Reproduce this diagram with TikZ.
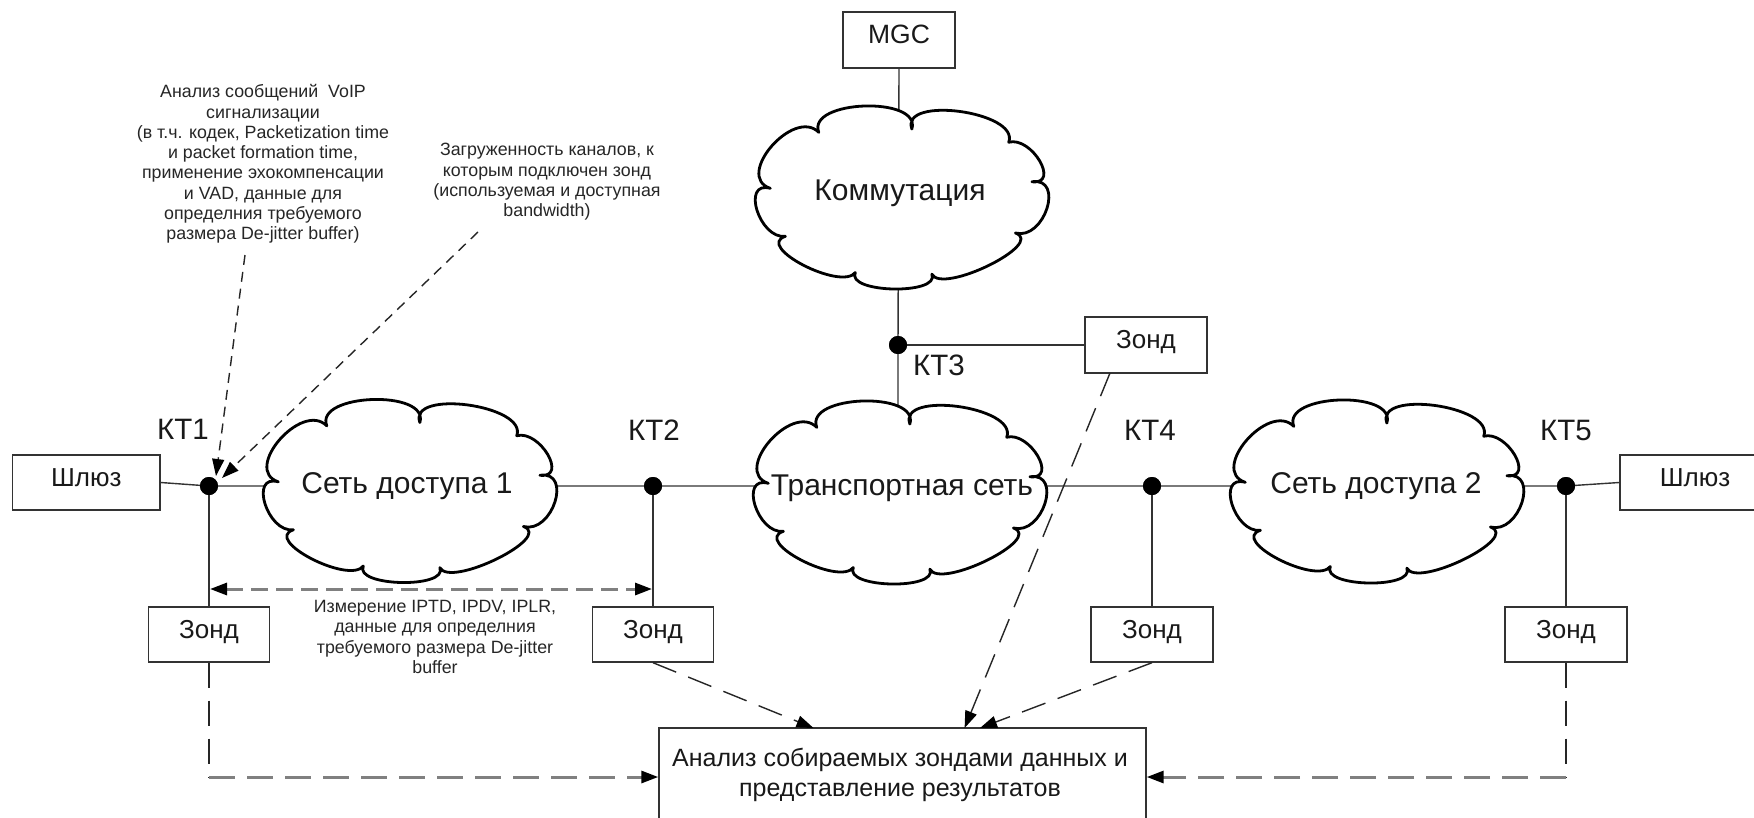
\documentclass[tikz,border=0pt]{standalone}
\usepackage{fontspec}
\setmainfont{Liberation Sans}
\usetikzlibrary{arrows.meta}

\tikzset{
  conn/.style={draw=black!80, line width=1.4pt},
  box/.style={draw=black!80, line width=1.4pt, fill=white, inner sep=0pt, text=black!90,
    font=\fontsize{26}{30}\selectfont, text height=0.72em, text depth=0pt},
  dot/.style={circle, fill=black, inner sep=0pt, minimum size=18pt},
  lbl/.style={text=black!90, font=\fontsize{29.5}{33}\selectfont, inner sep=0pt,
    text height=0.72em, text depth=0pt},
  cloudtxt/.style={text=black!90, font=\fontsize{30}{34}\selectfont, inner sep=0pt,
    text height=0.72em, text depth=0pt},
  note/.style={text=black!85, font=\fontsize{17.8}{20.3}\selectfont, align=center, inner sep=0pt},
  tip/.style={-{Triangle[length=17pt,width=12pt,color=black]}},
  longdash/.style={draw=black!85, line width=1.4pt, dash pattern=on 25pt off 13pt},
  shortdash/.style={draw=black!85, line width=1.4pt, dash pattern=on 10pt off 7pt},
  graydash/.style={draw=black!50, line width=3pt, dash pattern=on 26pt off 12pt},
  graydashshort/.style={draw=black!50, line width=3pt, dash pattern=on 17pt off 8pt},
  cloudline/.style={draw=black, line width=2.8pt, fill=white, line join=round},
}

% cloud outline in unit coordinates, placed by its centre
\newcommand\cloudshape[2]{%
  \begin{scope}[shift={(#1-145,#2-91.5)}, xscale=290, yscale=183]
    \path[cloudline] (0.534,0.126)
      .. controls (0.493,-0.059) and (0.907,0.031) .. (0.868,0.198)
      .. controls (0.947,0.164) and (1.047,0.432) .. (0.948,0.414)
      .. controls (1.062,0.388) and (0.991,0.736) .. (0.891,0.694)
      .. controls (0.997,0.752) and (0.639,1.031) .. (0.603,0.919)
      .. controls (0.633,1.034) and (0.306,1.023) .. (0.339,0.910)
      .. controls (0.290,1.012) and (-0.009,0.767) .. (0.098,0.712)
      .. controls (0.008,0.729) and (-0.056,0.404) .. (0.046,0.450)
      .. controls (-0.080,0.384) and (0.127,0.005) .. (0.213,0.144)
      .. controls (0.170,-0.034) and (0.568,-0.056) .. (0.534,0.126)
      -- cycle;
  \end{scope}}

\begin{document}
\begin{tikzpicture}[x=1pt,y=-1pt]
  \useasboundingbox (0,0) rectangle (1754,817);
  \fill[white] (0,0) rectangle (1754,817);

  % measurement points
  \node[dot] (kt1) at (209,486) {};
  \node[dot] (kt2) at (653,486) {};
  \node[dot] (kt3) at (898,345) {};
  \node[dot] (kt4) at (1152,486) {};
  \node[dot] (kt5) at (1566,486) {};

  % boxes
  \node[box, minimum width=147.4pt, minimum height=55pt] (gwL) at (86.3,482.5) {Шлюз};
  \node[box, minimum width=150pt, minimum height=55pt] (gwR) at (1695,482.5) {Шлюз};
  \node[box, minimum width=121.5pt, minimum height=55pt] (z1) at (209,634.5) {Зонд};
  \node[box, minimum width=121.5pt, minimum height=55pt] (z2) at (653,634.5) {Зонд};
  \node[box, minimum width=122pt, minimum height=56pt] (z3) at (1146,345) {Зонд};
  \node[box, minimum width=122pt, minimum height=55pt] (z4) at (1152,634.5) {Зонд};
  \node[box, minimum width=122pt, minimum height=55pt] (z5) at (1566,634.5) {Зонд};
  \node[box, minimum width=112pt, minimum height=56pt, font=\fontsize{26.5}{30}\selectfont] (mgc) at (899,40) {MGC};
  \node[box, minimum width=487pt, minimum height=104pt] (an) at (902.5,780) {};

  % points inside the clouds where the links end
  \coordinate (c1) at (410,486);
  \coordinate (ct) at (900,486);
  \coordinate (c2) at (1377,486);
  \coordinate (ctop) at (898,440);

  % solid links (drawn beneath clouds and boxes)
  \draw[conn] (gwL.east) -- (kt1.center) -- (c1) -- (kt2.center) -- (ct)
              -- (kt4.center) -- (c2) -- (kt5.center) -- (gwR.west);
  \draw[conn] (mgc.south) -- (kt3.center) -- (ctop);
  \draw[conn] (kt3.center) -- (z3.west);
  \draw[conn] (kt1.center) -- (kt1 |- z1.north);
  \draw[conn] (kt2.center) -- (kt2 |- z2.north);
  \draw[conn] (kt4.center) -- (kt4 |- z4.north);
  \draw[conn] (kt5.center) -- (kt5 |- z5.north);

  % clouds
  \cloudshape{410}{491}
  \cloudshape{1377}{491.5}
  \cloudshape{900}{492.5}
  \cloudshape{902}{197.5}
  \node[cloudtxt] (cl1) at (407,490) {Сеть доступа 1};
  \node[cloudtxt] (cl2) at (1376,490) {Сеть доступа 2};
  \node[cloudtxt] (clt) at (902,492) {Транспортная сеть};
  \node[cloudtxt] (clk) at (900,197) {Коммутация};

  % points drawn again above the clouds
  \foreach \k in {kt1,kt2,kt3,kt4,kt5} \fill (\k) circle (9pt);

  % labels of the measurement points
  \node[lbl] (l1) at (183,436) {КТ1};
  \node[lbl] (l2) at (654,437) {КТ2};
  \node[lbl] (l3) at (939,372) {КТ3};
  \node[lbl] (l4) at (1150,437) {КТ4};
  \node[lbl] (l5) at (1566,437) {КТ5};

  % data flows to the analysis box
  \coordinate (b1) at (209,777);
  \coordinate (b5) at (1566,777);
  \draw[longdash] (z1.south) -- (b1);
  \draw[graydash, tip] (b1) -- (b1 -| an.west);
  \draw[longdash] (z5.south) -- (b5);
  \draw[graydash, tip] (b5) -- (b5 -| an.east);
  \coordinate (s3) at (1110,373);
  \coordinate (a2) at (813.5,728);
  \coordinate (a3) at (964.6,728);
  \coordinate (a4) at (980,728);
  \draw[longdash, tip] (z2.south) -- (a2);
  \draw[longdash, tip] (s3) -- (a3);
  \draw[longdash, tip] (z4.south) -- (a4);

  % measurement between KT1 and KT2
  \coordinate (m1) at (210,589);
  \coordinate (m2) at (652,589);
  \draw[graydashshort, {Triangle[length=17pt,width=12pt,color=black]}-{Triangle[length=17pt,width=12pt,color=black]}] (m1) -- (m2);

  % notes
  \node[note] (t1) at (263,164) {Анализ сообщений~ VoIP\\сигнализации\\(в т.ч. кодек, Packetization time\\и packet formation time,\\применение эхокомпенсации\\и VAD, данные для\\определния требуемого\\размера De-jitter buffer)};
  \node[note] (t2) at (547,182) {Загруженность каналов, к\\которым подключен зонд\\(используемая и доступная\\bandwidth)};
  \node[note] (t3) at (435,637) {Измерение IPTD, IPDV, IPLR,\\данные для определния\\требуемого размера De-jitter\\buffer};
  \coordinate (n1a) at (245,255);
  \coordinate (n1b) at (216,476);
  \coordinate (n2a) at (478,232);
  \coordinate (n2b) at (222,478);
  \draw[shortdash, tip] (n1a) -- (n1b);
  \draw[shortdash, tip] (n2a) -- (n2b);

  \node[text=black!90, font=\fontsize{25}{30}\selectfont, align=center, inner sep=0pt] (antext) at (900,775)
    {Анализ собираемых зондами данных и\\представление результатов};
\end{tikzpicture}
\end{document}
